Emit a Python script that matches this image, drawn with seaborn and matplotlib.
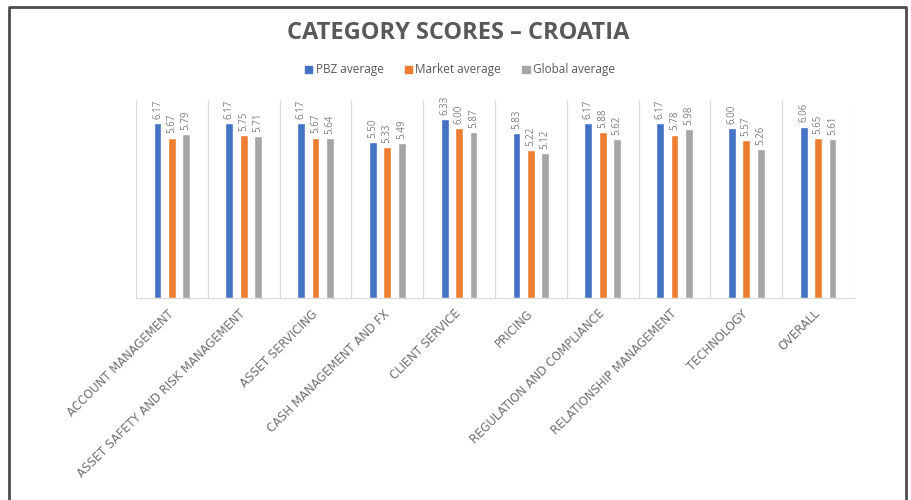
import pandas as pd
import numpy as np
import matplotlib
matplotlib.use("Agg")
import matplotlib.pyplot as plt
from matplotlib.lines import Line2D
import seaborn as sns

# Chart data
categories = [
    "ACCOUNT MANAGEMENT",
    "ASSET SAFETY AND RISK MANAGEMENT",
    "ASSET SERVICING",
    "CASH MANAGEMENT AND FX",
    "CLIENT SERVICE",
    "PRICING",
    "REGULATION AND COMPLIANCE",
    "RELATIONSHIP MANAGEMENT",
    "TECHNOLOGY",
    "OVERALL",
]
series_names = ["PBZ average", "Market average", "Global average"]
pbz_avg = [6.17, 6.17, 6.17, 5.50, 6.33, 5.83, 6.17, 6.17, 6.00, 6.06]
market_avg = [5.67, 5.75, 5.67, 5.33, 6.00, 5.22, 5.88, 5.78, 5.57, 5.65]
global_avg = [5.79, 5.71, 5.64, 5.49, 5.87, 5.12, 5.62, 5.98, 5.26, 5.61]
colors = ["#4472C4", "#ED7D31", "#A5A5A5"]

# long-form table for seaborn
df = pd.DataFrame({
    "Category": categories * 3,
    "Series": np.repeat(series_names, len(categories)),
    "Score": pbz_avg + market_avg + global_avg,
})

sns.set_style("white")
plt.rcParams["font.family"] = ["Open Sans", "DejaVu Sans"]
text_grey = "#595959"

fig = plt.figure(figsize=(9.11, 5.0), dpi=100)
ax = fig.add_axes([136 / 911, 1 - 298 / 500, (854 - 136) / 911, 198 / 500])

sns.barplot(data=df, x="Category", y="Score", hue="Series", order=categories,
            hue_order=series_names, palette=colors, width=0.6, gap=0.45,
            saturation=1, legend=False, ax=ax)

for cont in ax.containers:
    ax.bar_label(cont, fmt="%.2f", rotation=90, padding=3, fontsize=7,
                 color="#808080")

ax.set_ylim(0, 7)
ax.set_xlim(-0.5, len(categories) - 0.5)
# light separators between the categories
ax.vlines(np.arange(-0.5, len(categories)), 0, 7, color="#d9d9d9", lw=0.9,
          zorder=0)

ax.set_xlabel("")
ax.set_ylabel("")
ax.set_yticks([])
for s in ["top", "right", "left"]:
    ax.spines[s].set_visible(False)
ax.spines["bottom"].set_color("#d9d9d9")
ax.tick_params(axis="x", length=0, pad=10)
ax.set_xticks(range(len(categories)))
ax.set_xticklabels(categories, rotation=45, ha="right", va="center",
                   rotation_mode="anchor", fontsize=8.4, color="#707070",
                   family="DejaVu Sans")

# title and legend
fig.text(0.503, 1 - 33 / 500, "CATEGORY SCORES – CROATIA", ha="center",
         va="center", fontsize=17, fontweight="bold", color=text_grey)
handles = [plt.Rectangle((0, 0), 1, 1, color=c) for c in colors]
fig.legend(handles, series_names, loc="center", bbox_to_anchor=(0.505, 1 - 70 / 500),
           ncol=3, frameon=False, fontsize=8.5, handlelength=0.6, handleheight=0.6,
           handletextpad=0.3, columnspacing=1.8, labelcolor=text_grey)

# page frame around the chart (left, top, right)
W, H = 911, 500
frame_x = [9 / W, 9 / W, 906 / W, 906 / W]
frame_y = [0, 1 - 7 / H, 1 - 7 / H, 0]
fig.add_artist(Line2D(frame_x, frame_y, transform=fig.transFigure,
                      color="#4d4d4d", lw=2))

fig.savefig("out.png", dpi=100)
